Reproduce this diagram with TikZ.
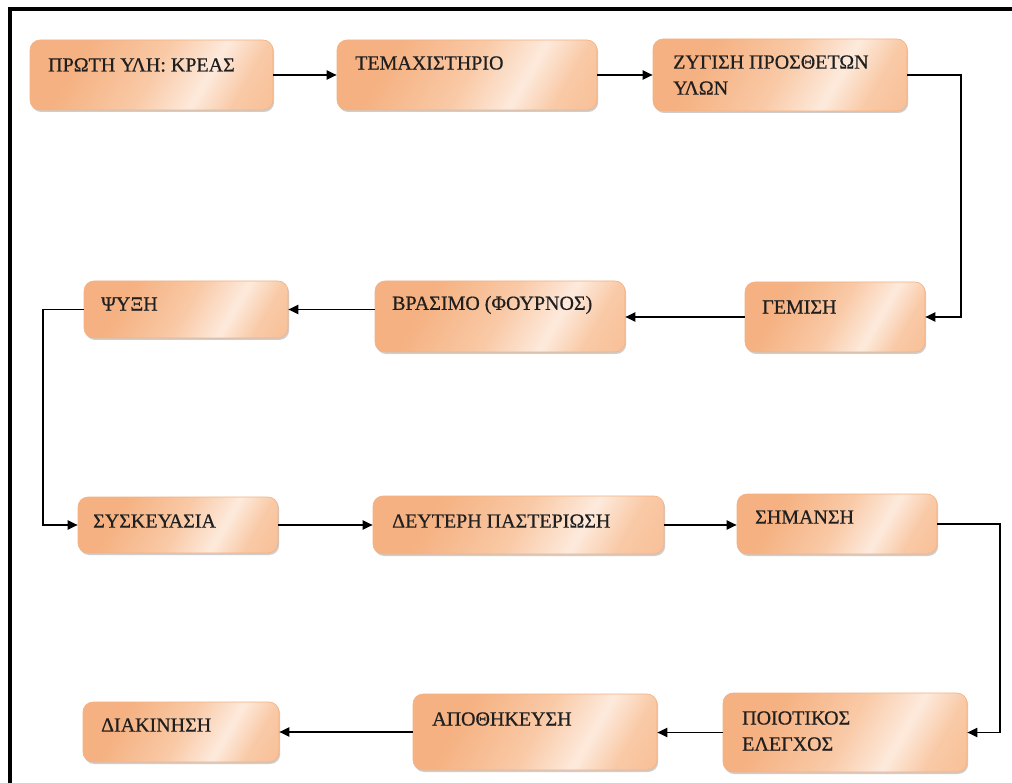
\documentclass[tikz,border=0pt]{standalone}
\usepackage{fontspec}
\setmainfont{Liberation Serif}
\newfontfamily\lblfont[FakeBold=0.5]{Liberation Serif}
\usetikzlibrary{arrows.meta,shadows,fit}
\definecolor{pdark}{HTML}{F5B181}
\definecolor{plight}{HTML}{FDEADC}
\definecolor{pmid}{HTML}{F9C9A6}
\pgfdeclarehorizontalshading{peach}{100bp}{color(0bp)=(pdark); color(30bp)=(pdark); color(50bp)=(pmid); color(64bp)=(plight); color(74bp)=(pmid); color(100bp)=(pdark)}
\tikzset{
  box/.style={rectangle, rounded corners=10pt, inner sep=0pt, draw=pdark, line width=0.6pt,
    shading=peach, shading angle=-30,
    drop shadow={shadow xshift=1.2pt, shadow yshift=-2pt, opacity=0.35, fill=black!55}},
  lbl/.style={anchor=west, inner sep=0pt, align=left, font=\lblfont\fontsize{20}{26}\selectfont, text=black!88},
  arr/.style={line width=1.9pt, -{Triangle[length=10pt,width=9pt]}}
}
\begin{document}
\begin{tikzpicture}[x=1pt,y=-1pt]
\useasboundingbox (0,0) rectangle (1012,783);
\fill[white] (0,0) rectangle (1012,783);
\draw[line width=4pt] (10,785) -- (10,9) -- (1014,9);
% boxes
\node[box, fit={(30,40)(273,110)}] (b1) {};
\node[box, fit={(337,40)(597,110)}] (b2) {};
\node[box, fit={(653,39)(907,111)}] (b3) {};
\node[box, fit={(745,282)(925,352)}] (b4) {};
\node[box, fit={(375,281)(625,352)}] (b5) {};
\node[box, fit={(84,281)(288,338)}] (b6) {};
\node[box, fit={(78,497)(278,553)}] (b7) {};
\node[box, fit={(373,496)(664,554)}] (b8) {};
\node[box, fit={(737,494)(937,554)}] (b9) {};
\node[box, fit={(723,693)(967,772)}] (b10) {};
\node[box, fit={(413,694)(657,770)}] (b11) {};
\node[box, fit={(83,702)(279,762)}] (b12) {};
% labels
\node[lbl] (l1) at (48,65) {ΠΡΩΤΗ ΥΛΗ: ΚΡΕΑΣ};
\node[lbl] (l2) at (355,63) {ΤΕΜΑΧΙΣΤΗΡΙΟ};
\node[lbl] (l3) at (673,75) {ΖΥΓΙΣΗ ΠΡΟΣΘΕΤΩΝ\\ΥΛΩΝ};
\node[lbl] (l4) at (762,307) {ΓΕΜΙΣΗ};
\node[lbl] (l5) at (392,305) {ΒΡΑΣΙΜΟ (ΦΟΥΡΝΟΣ)};
\node[lbl] (l6) at (101,304) {ΨΥΞΗ};
\node[lbl] (l7) at (93,521) {ΣΥΣΚΕΥΑΣΙΑ};
\node[lbl] (l8) at (392,521) {ΔΕΥΤΕΡΗ ΠΑΣΤΕΡΙΩΣΗ};
\node[lbl] (l9) at (755,517) {ΣΗΜΑΝΣΗ};
\node[lbl] (l10) at (742,731) {ΠΟΙΟΤΙΚΟΣ\\ΕΛΕΓΧΟΣ};
\node[lbl] (l11) at (432,719) {ΑΠΟΘΗΚΕΥΣΗ};
\node[lbl] (l12) at (101,725) {ΔΙΑΚΙΝΗΣΗ};
% connectors
\draw[arr] (b1.east) -- (b2.west);
\draw[arr] (b2.east) -- (b3.west);
\draw[arr] (b3.east) -| ([xshift=36pt]b4.east) -- (b4.east);
\draw[arr] (b4.west) -- (b4.west -| b5.east);
\draw[arr] (b5.west |- b6.east) -- (b6.east);
\draw[arr] (b6.west) -- ++(-41,0) |- (b7.west);
\draw[arr] (b7.east) -- (b8.west);
\draw[arr] (b8.east) -- (b8.east -| b9.west);
\draw[arr] (b9.east) -| ([xshift=33pt]b10.east) -- (b10.east);
\draw[arr] (b10.west) -- (b10.west -| b11.east);
\draw[arr] (b11.west) -- (b12.east);
\end{tikzpicture}
\end{document}
